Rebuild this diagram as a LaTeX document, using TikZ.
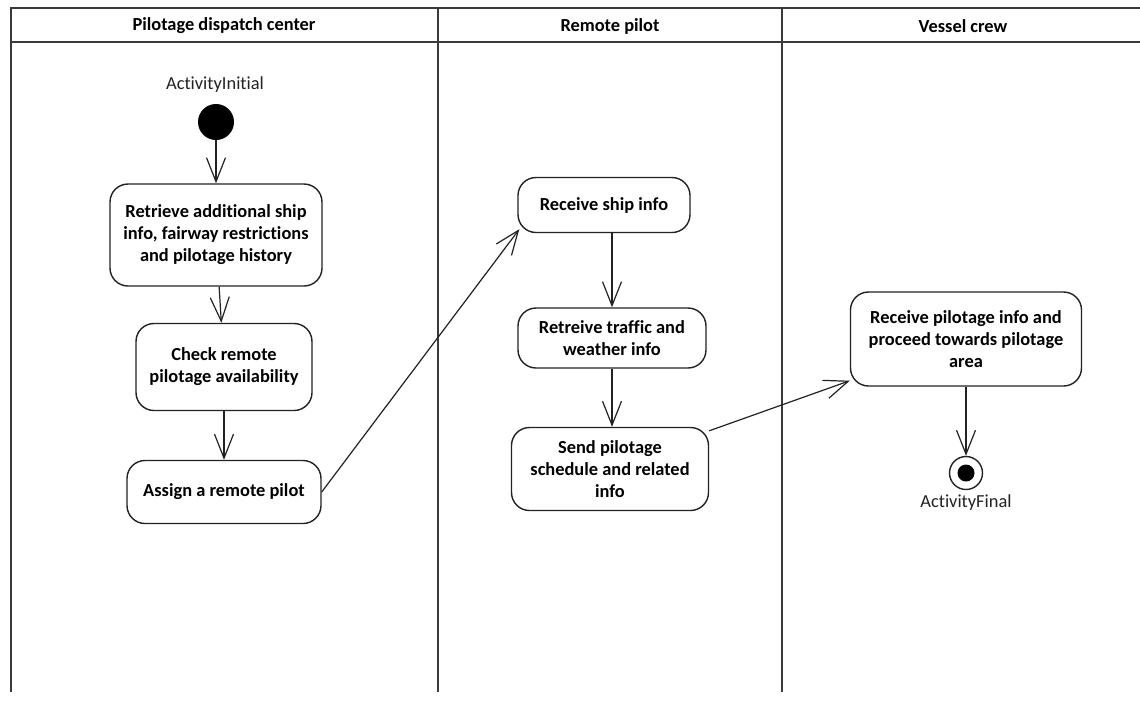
\documentclass[tikz,border=0pt]{standalone}
\usepackage{fontspec}
\setmainfont{Carlito}[Ligatures=NoCommon]
\usetikzlibrary{arrows.meta,positioning}
\definecolor{clLane}{HTML}{3A3A3A}
\definecolor{clBox}{HTML}{222222}
\newcommand{\diafont}{\fontsize{18.4}{22}\selectfont}
\tikzset{
  act/.style={rectangle, rounded corners=18pt, draw=clBox, line width=1.4pt,
              align=center, inner sep=4pt, font=\bfseries\diafont},
  flow/.style={-{Straight Barb[length=24pt,width=19pt]}, line width=1.2pt, draw=clBox},
  lane/.style={draw=clLane, line width=1.8pt},
  lanetitle/.style={font=\bfseries\diafont},
  actlabel/.style={font=\diafont, text=clBox},
  startdot/.style={circle, fill=black, inner sep=0pt, minimum size=36pt},
  enddot/.style={circle, draw=clBox, line width=1.4pt, inner sep=0pt, minimum size=33pt},
}

\begin{document}
\begin{tikzpicture}[x=1pt, y=-1pt]
  \useasboundingbox (0,0) rectangle (1140,702);
  % swimlanes
  \draw[lane] (11,692) |- (1140,8);
  \draw[lane] (11,42) -- (1140,42);
  \draw[lane] (438,8) -- (438,692);
  \draw[lane] (782,8) -- (782,692);
  \node[lanetitle] (dispatch) at (224,26) {Pilotage dispatch center};
  \node[lanetitle] (pilot) at (610,26) {Remote pilot};
  \node[lanetitle] (crew) at (963,26) {Vessel crew};

  % pilotage dispatch center
  \node[actlabel] (initlbl) at (215,85) {ActivityInitial};
  \node[startdot] (init) at (216,122) {};
  \node[act, minimum width=212pt, minimum height=102pt] (retrieve) at (216,235)
    {Retrieve additional ship\\info, fairway restrictions\\and pilotage history};
  \node[act, minimum width=176pt, minimum height=87pt] (check) at (224,367)
    {Check remote\\pilotage availability};
  \node[act, minimum width=194pt, minimum height=63pt] (assign) at (224,492)
    {Assign a remote pilot};

  % remote pilot
  \node[act, minimum width=172pt, minimum height=55pt] (shipinfo) at (604,205)
    {Receive ship info};
  \node[act, minimum width=188pt, minimum height=60pt] (traffic) at (612,338)
    {Retreive traffic and\\weather info};
  \node[act, minimum width=197pt, minimum height=83pt] (schedule) at (610,469)
    {Send pilotage\\schedule and related\\info};

  % vessel crew
  \node[act, minimum width=231pt, minimum height=94pt] (proceed) at (966,339)
    {Receive pilotage info and\\proceed towards pilotage\\area};
  \node[enddot] (final) at (966,473) {};
  \node[startdot, minimum size=17pt] (finaldot) at (final) {};
  \node[actlabel] (finallbl) at (966,503) {ActivityFinal};

  \draw[flow] (init) -- (retrieve);
  \draw[flow] (retrieve) -- (check);
  \draw[flow] (check) -- (assign);
  \draw[flow] (assign.east) -- ([xshift=2pt,yshift=4pt]shipinfo.south west);
  \draw[flow] (shipinfo.south -| traffic) -- (traffic);
  \draw[flow] (traffic.south) -- (traffic.south |- schedule.north);
  \draw[flow] ([yshift=-4pt]schedule.north east) -- ([yshift=6pt]proceed.south west);
  \draw[flow] (proceed) -- (final);
\end{tikzpicture}
\end{document}
